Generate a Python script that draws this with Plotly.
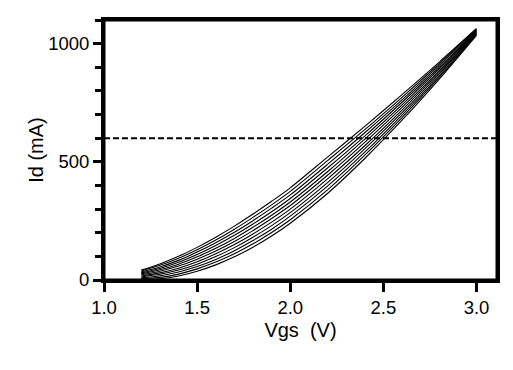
import plotly.graph_objects as go

# Gate voltage grid (V)
vgs = [1.2, 1.3, 1.4, 1.5, 1.6, 1.7, 1.8, 1.9, 2.0, 2.2, 2.4, 2.6, 2.8, 3.0]

# Drain current curves (mA)
id_c0 = [42, 68, 100, 138, 181, 228, 279, 333, 390, 520, 650, 784, 922, 1064]
id_c1 = [38, 62, 92, 128, 169, 215, 265, 318, 375, 505, 636, 773, 915, 1061]
id_c2 = [34, 55, 83, 118, 158, 202, 251, 304, 360, 489, 623, 762, 908, 1058]
id_c3 = [30, 49, 75, 108, 146, 189, 237, 289, 345, 474, 609, 752, 900, 1055]
id_c4 = [26, 43, 67, 98, 134, 176, 223, 274, 330, 458, 596, 741, 893, 1052]
id_c5 = [22, 37, 59, 88, 123, 163, 209, 260, 315, 443, 582, 730, 886, 1050]
id_c6 = [17, 30, 50, 77, 111, 150, 195, 245, 300, 428, 568, 719, 879, 1047]
id_c7 = [13, 24, 42, 67, 99, 137, 181, 230, 285, 412, 555, 708, 872, 1044]
id_c8 = [9, 18, 34, 57, 87, 124, 167, 215, 270, 397, 541, 698, 864, 1041]
id_c9 = [5, 11, 25, 47, 76, 111, 153, 201, 255, 381, 528, 687, 857, 1038]
id_c10 = [1, 5, 17, 37, 64, 98, 139, 186, 240, 366, 514, 676, 850, 1035]

curves = [id_c0, id_c1, id_c2, id_c3, id_c4, id_c5, id_c6,
          id_c7, id_c8, id_c9, id_c10]

# Dashed reference level
ref_x = [1.0, 3.11]
ref_y = [600, 600]

x_ticks = [1.0, 1.5, 2.0, 2.5, 3.0]
x_tick_text = ["1.0", "1.5", "2.0", "2.5", "3.0"]
y_ticks = [0, 500, 1000]
y_tick_text = ["0", "500", "1000"]

FONT = "Arial, Liberation Sans, Helvetica, sans-serif"
TICK_SIZE = 18.5
TITLE_SIZE = 20

fig = go.Figure()
for c in curves:
    fig.add_trace(go.Scatter(
        x=vgs, y=c, mode="lines",
        line=dict(color="black", width=1.1, shape="spline", smoothing=0.8),
        showlegend=False, hoverinfo="skip"))

fig.add_trace(go.Scatter(
    x=ref_x, y=ref_y, mode="lines",
    line=dict(color="black", width=2, dash="6px,3px"),
    showlegend=False, hoverinfo="skip"))

fig.update_layout(
    width=513, height=370,
    margin=dict(l=104, r=16, t=20, b=90, autoexpand=False),
    paper_bgcolor="white", plot_bgcolor="white",
    font=dict(family=FONT, size=TICK_SIZE, color="black"),
    showlegend=False,
    shapes=[dict(type="rect", xref="paper", yref="paper",
                 x0=0, x1=1, y0=0, y1=1,
                 line=dict(color="black", width=3), layer="above")],
)

fig.update_xaxes(
    range=[1.0, 3.11], showgrid=False, zeroline=False,
    showline=True, linewidth=3, linecolor="black", mirror=True,
    ticks="outside", ticklen=9, tickwidth=3, tickcolor="black",
    tickvals=x_ticks, ticktext=x_tick_text,
    tickfont=dict(family=FONT, size=TICK_SIZE, color="black"),
    title=dict(text="Vgs\u00a0\u00a0(V)",
               font=dict(family=FONT, size=TITLE_SIZE, color="black"),
               standoff=6),
)
fig.update_yaxes(
    range=[0, 1100], showgrid=False, zeroline=False,
    showline=True, linewidth=3, linecolor="black", mirror=True,
    ticks="outside", ticklen=8, tickwidth=3, tickcolor="black",
    tickvals=y_ticks, ticktext=y_tick_text,
    tickfont=dict(family=FONT, size=TICK_SIZE, color="black"),
    minor=dict(dtick=100, tick0=0, ticks="outside", ticklen=6,
               tickwidth=3, tickcolor="black", showgrid=False),
    title=dict(text="Id (mA)",
               font=dict(family=FONT, size=TITLE_SIZE, color="black"),
               standoff=0),
)

fig.write_html(
    "out.html",
    config={"displayModeBar": False},
    post_script="document.body.style.margin='0px';document.body.style.overflow='hidden';",
)
